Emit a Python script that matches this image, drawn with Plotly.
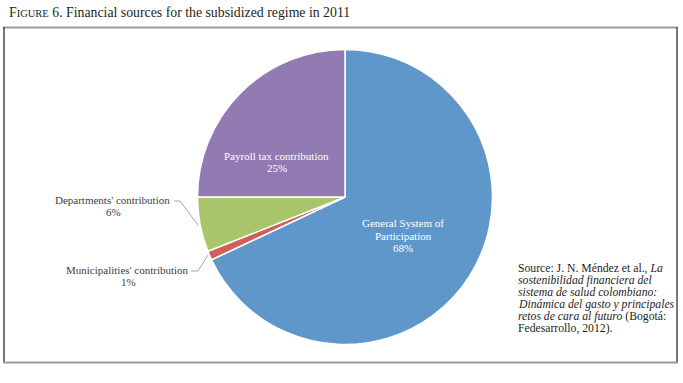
import plotly.graph_objects as go

W, H = 683, 383

# ---- data ----
labels = ["General System of Participation", "Municipalities' contribution",
          "Departments' contribution", "Payroll tax contribution"]
values = [68, 1, 6, 25]
colors = ["#6097CB", "#CF5F5B", "#A8C56B", "#927AB3"]
pct_text = ["68%", "1%", "6%", "25%"]

title_rest = " 6. Financial sources for the subsidized regime in 2011"
source_lines = [
    "Source: J. N. Méndez et al., <i>La</i>",
    "<i>sostenibilidad financiera del</i>",
    "<i>sistema de salud colombiano:</i>",
    "<i>Dinámica del gasto y principales</i>",
    "<i>retos de cara al futuro</i> (Bogotá:",
    "Fedesarrollo, 2012).",
]

FONT = "Liberation Serif, Times New Roman, serif"


def px(x):
    return x / W


def py(y):
    return 1 - y / H


cx, cy, r = 345, 197, 147.5

fig = go.Figure()
fig.add_trace(go.Pie(
    labels=labels, values=values, sort=False, direction="clockwise", rotation=0,
    marker=dict(colors=colors, line=dict(color="white", width=1.5)),
    textinfo="none", hoverinfo="none", showlegend=False,
    domain=dict(x=[px(cx - r), px(cx + r)], y=[py(cy + r), py(cy - r)]),
))

ann = []


def add_text(text, x, y, size=11, color="#3a3a3a", xanchor="center"):
    ann.append(dict(text=text, x=px(x), y=py(y), xref="paper", yref="paper",
                    xanchor=xanchor, yanchor="middle", showarrow=False,
                    font=dict(family=FONT, size=size, color=color)))


# title
add_text("F<span style='font-size:10.5px'>IGURE</span>" + title_rest, 7, 12,
         size=13.8, color="#231f20", xanchor="left")

# inside labels
add_text("Payroll tax contribution", 276.5, 156, color="white")
add_text(pct_text[3], 276.5, 168, color="white")
add_text("General System of", 403, 223, color="white")
add_text("Participation", 403, 236, color="white")
add_text(pct_text[0], 403, 248, color="white")

# outside labels
add_text(labels[2], 112.5, 200, color="#404040")
add_text(pct_text[2], 113, 212, color="#404040")
add_text(labels[1], 127.5, 270, color="#404040")
add_text(pct_text[1], 128, 282, color="#404040")

# source
src_y = [268, 280, 292, 304, 316, 328]
for t, yy in zip(source_lines, src_y):
    add_text(t, 516, yy, size=11.7, color="#1e1e1e", xanchor="left")

shapes = []


def line(x0, y0, x1, y1, color, width):
    shapes.append(dict(type="line", xref="paper", yref="paper",
                       x0=px(x0), y0=py(y0), x1=px(x1), y1=py(y1),
                       line=dict(color=color, width=width)))


# frame
line(3, 27.5, 678, 27.5, "#9a9a9a", 2)
line(4, 27, 4, 363, "#4a4a4a", 1.5)
line(677, 27, 677, 363, "#4a4a4a", 1.5)
line(3, 362.5, 678, 362.5, "#9a9a9a", 2)

# leader lines
line(174, 201, 180, 201, "#a6a6a6", 1)
line(180, 201, 198, 225, "#a6a6a6", 1)
line(191, 271, 198, 271, "#a6a6a6", 1)
line(198, 271, 208, 255, "#a6a6a6", 1)

fig.update_layout(
    width=W, height=H, margin=dict(l=0, r=0, t=0, b=0),
    paper_bgcolor="white", plot_bgcolor="white",
    annotations=ann, shapes=shapes,
)

fig.write_html("out.html", config={"displayModeBar": False},
               post_script="document.body.style.margin='0';"
                           "document.body.style.overflow='hidden';")
